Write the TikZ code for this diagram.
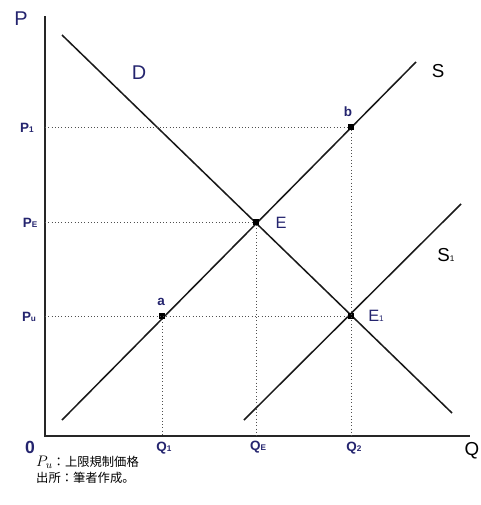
\RequirePackage{fix-cm}
\documentclass[tikz,border=0pt]{standalone}
\usepackage{fontspec}
\setmainfont{Liberation Sans}
\newfontfamily\jpfont{Noto Sans CJK JP}
\usetikzlibrary{positioning}
\definecolor{navy}{HTML}{24246E}
\definecolor{guide}{HTML}{505050}
\newcommand{\lsub}[1]{{\fontsize{7}{8}\selectfont #1}}
\tikzset{
  axisline/.style={line width=1.4pt, black!85},
  curve/.style={line width=1.3pt, black!90},
  guideline/.style={dotted, line width=0.8pt, guide},
  pt/.style={rectangle, fill=black, inner sep=0pt, minimum size=5pt},
  lbl/.style={text=navy, font=\bfseries\fontsize{11.5}{13}\selectfont, inner sep=0pt},
  midlbl/.style={lbl, font=\fontsize{14}{16}\selectfont},
  biglbl/.style={lbl, font=\fontsize{17}{19}\selectfont},
  blacklbl/.style={lbl, text=black, font=\fontsize{16}{18}\selectfont},
  note/.style={font=\jpfont\fontsize{10.5}{12}\selectfont, anchor=west, inner sep=0pt},
}

\begin{document}
\begin{tikzpicture}[x=0.03cm, y=-0.03cm]
\useasboundingbox (0,0) rectangle (481,505);
% axes
\coordinate (O) at (45,436);
\coordinate (Ptop) at (45,16);
\coordinate (Qend) at (470,436);
\draw[axisline] (Ptop) -- (O) -- (Qend);
% curve ends
\coordinate (D0) at (62,35);
\coordinate (D1) at (452,413);
\coordinate (S0) at (62,420);
\coordinate (S1top) at (416,62);
\coordinate (T0) at (244,420);
\coordinate (T1) at (461,204);
\draw[curve] (D0) -- (D1);
\draw[curve] (S0) -- (S1top);
\draw[curve] (T0) -- (T1);
% points
\node[pt] (E) at (256,222) {};
\node[pt] (E1) at (351,316) {};
\node[pt] (a) at (162,316) {};
\node[pt] (b) at (351,127) {};
% guides
\draw[guideline] (O |- b) -- (b) -- (b |- O);
\draw[guideline] (O |- E) -- (E) -- (E |- O);
\draw[guideline] (O |- E1) -- (E1);
\draw[guideline] (a) -- (a |- O);
% labels
\node[biglbl] (lP) at (21,19) {P};
\node[biglbl] (lD) at (139,73) {D};
\node[blacklbl] (lS) at (438,71) {S};
\node[blacklbl] (lS1) at (446,255) {S\lsub{1}};
\node[lbl] (lP1) at (27,128) {P\lsub{1}};
\node[lbl] (lPE) at (30,223) {P\lsub{E}};
\node[lbl] (lPu) at (29,317) {P\lsub{u}};
\node[lbl] (la) at (161,302) {a};
\node[lbl] (lb) at (348,112) {b};
\node[midlbl] (lE) at (281,223) {E};
\node[midlbl] (lE1) at (376,316) {E\lsub{1}};
\node[lbl, font=\bfseries\fontsize{15}{17}\selectfont] (lO) at (30,447) {0};
\node[lbl] (lQ1) at (164,448) {Q\lsub{1}};
\node[lbl] (lQE) at (258,447) {Q\lsub{E}};
\node[lbl] (lQ2) at (354,448) {Q\lsub{2}};
\node[blacklbl] (lQ) at (472,451) {Q};
% notes
\node[note] (n1) at (36,462) {{\fontsize{13}{15}\selectfont$P_u$}：上限規制価格};
\node[note] (n2) at (36,478) {出所：筆者作成。};
\end{tikzpicture}
\end{document}
